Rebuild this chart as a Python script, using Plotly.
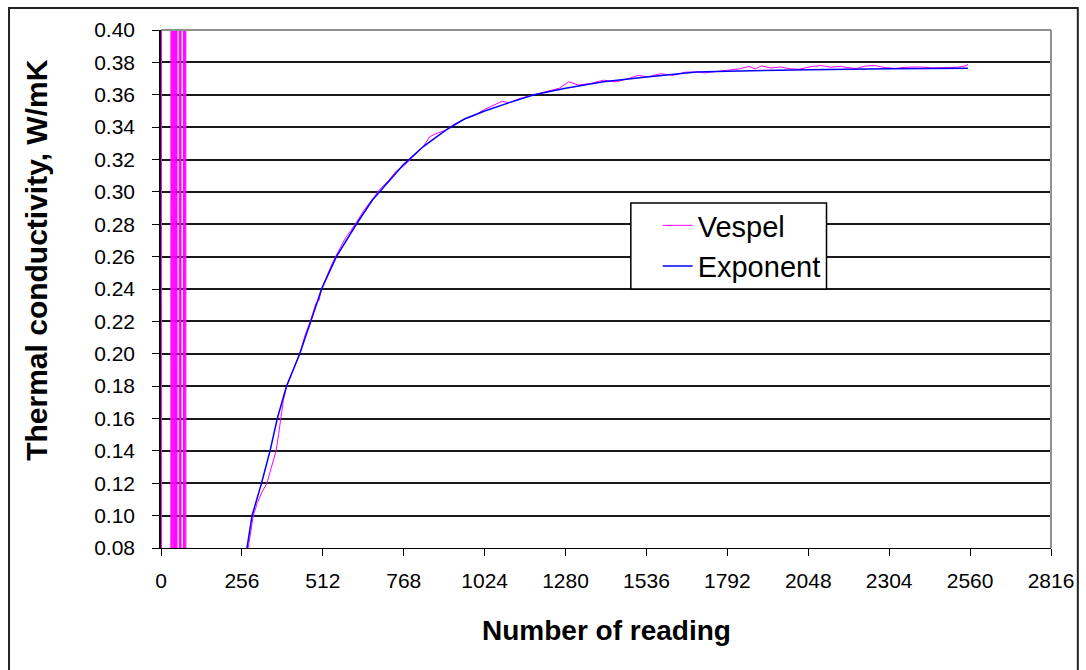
import plotly.graph_objects as go

# ---- data ----
# Vespel: early readings oscillate off-scale, then the measured rise
vespel_x = [0, 3, 30, 31, 32, 33, 34, 35, 36, 37, 38, 39, 40, 41, 42, 43, 44, 45, 46, 47,
            48, 49, 50, 51, 56, 57, 58, 59, 60, 61, 62, 63, 64, 69, 70, 71, 72, 73, 74,
            75, 76, 77, 78, 79, 80, 81, 160, 265,
            276, 284, 292, 305, 318, 335, 346, 357, 364, 372, 379, 387, 398, 410, 420,
            439, 455, 474, 490, 500, 508, 530, 542, 555, 570, 585, 600, 618, 640, 669,
            690, 720, 745, 768, 800, 830, 850, 870, 900, 930, 960, 990, 1024, 1060,
            1080, 1100, 1140, 1180, 1220, 1260, 1290, 1320, 1360, 1400, 1440, 1480,
            1510, 1540, 1580, 1620, 1660, 1700, 1720, 1760, 1800, 1830, 1860, 1880,
            1900, 1930, 1960, 1990, 2020, 2060, 2090, 2120, 2150, 2170, 2200, 2230,
            2260, 2290, 2320, 2360, 2400, 2440, 2480, 2520, 2550, 2553]
vespel_y = [2.0, -1.0, -1.0, 2.0, -1.0, 2.0, -1.0, 2.0, -1.0, 2.0, -1.0, 2.0, -1.0, 2.0,
            -1.0, 2.0, -1.0, 2.0, -1.0, 2.0, -1.0, 2.0, -1.0, 2.0, 2.0, -1.0, 2.0, -1.0,
            2.0, -1.0, 2.0, -1.0, 2.0, 2.0, -1.0, 2.0, -1.0, 2.0, -1.0, 2.0, -1.0, 2.0,
            -1.0, 2.0, -1.0, 0.02, 0.03, 0.05,
            0.080, 0.090, 0.100, 0.108, 0.114, 0.120, 0.128, 0.135, 0.140, 0.150, 0.159,
            0.171, 0.180, 0.186, 0.191, 0.200, 0.211, 0.221, 0.231, 0.233, 0.240, 0.251,
            0.256, 0.261, 0.267, 0.272, 0.276, 0.281, 0.288, 0.296, 0.301, 0.307, 0.313,
            0.316, 0.322, 0.328, 0.334, 0.336, 0.338, 0.342, 0.345, 0.347, 0.351, 0.354,
            0.356, 0.355, 0.358, 0.360, 0.362, 0.364, 0.368, 0.366, 0.367, 0.369, 0.368,
            0.370, 0.372, 0.371, 0.373, 0.372, 0.374, 0.374, 0.3735, 0.3745, 0.3755,
            0.376, 0.3775, 0.376, 0.3778, 0.3765, 0.3772, 0.376, 0.3758, 0.3775, 0.378,
            0.377, 0.3776, 0.3768, 0.3762, 0.3778, 0.378, 0.3768, 0.3763, 0.377, 0.3772,
            0.3766, 0.3768, 0.377, 0.378, 0.379]

# Exponent: fitted curve
expo_x = [272, 288, 318, 345, 368, 382, 397, 418, 439, 474, 508, 555, 618, 669, 720,
          768, 830, 900, 960, 1024, 1100, 1180, 1280, 1400, 1536, 1694, 1792, 2048,
          2304, 2553]
expo_y = [0.080, 0.100, 0.120, 0.140, 0.160, 0.170, 0.180, 0.190, 0.200, 0.220, 0.240,
          0.260, 0.280, 0.295, 0.306, 0.317, 0.328, 0.338, 0.345, 0.350, 0.355, 0.360,
          0.364, 0.368, 0.371, 0.374, 0.3745, 0.3755, 0.376, 0.3763]

x_ticks = [0, 256, 512, 768, 1024, 1280, 1536, 1792, 2048, 2304, 2560, 2816]
y_ticks = [0.08, 0.10, 0.12, 0.14, 0.16, 0.18, 0.20, 0.22, 0.24, 0.26, 0.28, 0.30,
           0.32, 0.34, 0.36, 0.38, 0.40]

W, H = 1086, 670
L, R, T, B = 161, 29, 30, 122
PW, PH = W - L - R, H - T - B


def px(xp):
    return (xp - L) / PW


def py(yp):
    return (H - B - yp) / PH


FONT = "Arial, Liberation Sans, sans-serif"

fig = go.Figure()
fig.add_trace(go.Scatter(x=vespel_x, y=vespel_y, mode="lines", name="Vespel",
                         line=dict(color="#FF00FF", width=1)))
fig.add_trace(go.Scatter(x=expo_x, y=expo_y, mode="lines", name="Exponent",
                         line=dict(color="#0000FF", width=1.5)))

fig.update_layout(
    width=W, height=H,
    margin=dict(l=L, r=R, t=T, b=B, pad=0),
    paper_bgcolor="white", plot_bgcolor="white",
    font=dict(family=FONT, color="black"),
    showlegend=True,
    legend=dict(x=px(661), y=py(200), xanchor="left", yanchor="top",
                bgcolor="rgba(0,0,0,0)", borderwidth=0,
                font=dict(family=FONT, size=29, color="black")),
    xaxis=dict(range=[0, 2816], tickvals=x_ticks, ticktext=[str(v) for v in x_ticks],
               showgrid=False, zeroline=False, showline=True, linecolor="black",
               linewidth=1, ticks="outside", ticklen=7, tickcolor="black",
               tickfont=dict(family=FONT, size=21, color="black"),
               ticklabelstandoff=7),
    yaxis=dict(range=[0.08, 0.40], tickvals=y_ticks,
               ticktext=["%.2f" % v for v in y_ticks],
               showgrid=True, gridcolor="#1a1a1a", gridwidth=1.5, zeroline=False,
               showline=True, linecolor="black", linewidth=1.5, ticks="outside",
               ticklen=7, tickcolor="black",
               tickfont=dict(family=FONT, size=21, color="black"),
               ticklabelstandoff=13),
)

# plot-area border (grey top & right)
fig.add_shape(type="line", xref="paper", yref="paper", x0=0, x1=1, y0=1, y1=1,
              line=dict(color="#909090", width=2), layer="above")
fig.add_shape(type="line", xref="paper", yref="paper", x0=1, x1=1, y0=0, y1=1,
              line=dict(color="#909090", width=2), layer="above")
# outer chart border
fig.add_shape(type="rect", xref="paper", yref="paper", x0=px(8), x1=px(1084),
              y0=py(700), y1=py(8), line=dict(color="#222222", width=2), layer="below")
# legend box
fig.add_shape(type="rect", xref="paper", yref="paper", x0=px(634), x1=px(831),
              y0=py(289), y1=py(203), line=dict(color="black", width=1.5),
              fillcolor="white", layer="above")

fig.add_annotation(text="<b>Number of reading</b>", xref="paper", yref="paper",
                   x=px(609), y=py(630), xanchor="center", yanchor="middle",
                   showarrow=False, font=dict(family=FONT, size=28, color="black"))
fig.add_annotation(text="<b>Thermal conductivity, W/mK</b>", xref="paper", yref="paper",
                   x=px(35), y=py(260), xanchor="center", yanchor="middle",
                   showarrow=False, textangle=-90,
                   font=dict(family=FONT, size=30, color="black"))

fig.write_html("out.html")
